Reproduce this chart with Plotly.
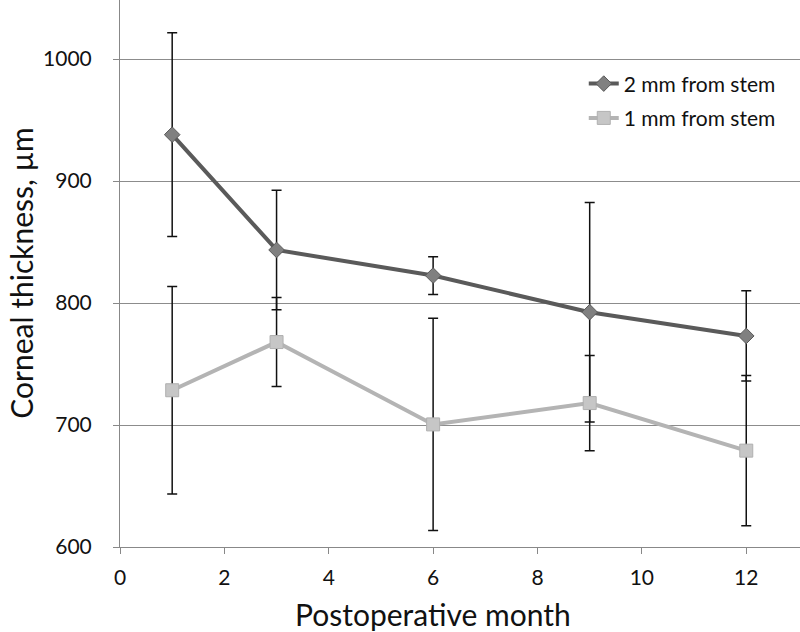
import plotly.graph_objects as go

months = [1, 3, 6, 9, 12]
mean_2mm = [938, 843.5, 822.5, 792.5, 773]
err_2mm = [83.5, 49, 15.5, 90, 37]
mean_1mm = [728.5, 768, 700.5, 718, 679]
err_1mm = [85, 36.5, 87, 39, 61.5]

x_ticks = [0, 2, 4, 6, 8, 10, 12]
y_ticks = [600, 700, 800, 900, 1000]

FONT = "Lato"

fig = go.Figure()
fig.add_trace(go.Scatter(
    x=months, y=mean_2mm, name="2 mm from stem", mode="lines+markers",
    legendgroup="a",
    line=dict(color="#5a5a5a", width=4),
    marker=dict(symbol="diamond", size=12, color="#808080",
                line=dict(color="#5a5a5a", width=1)),
    error_y=dict(type="data", array=err_2mm, visible=True,
                 color="#111111", thickness=1.5, width=5),
))
fig.add_trace(go.Scatter(
    x=months, y=mean_1mm, name="1 mm from stem", mode="lines+markers",
    legendgroup="b",
    line=dict(color="#b4b4b4", width=4),
    marker=dict(symbol="square", size=13, color="#c6c6c6",
                line=dict(color="#b0b0b0", width=1)),
    error_y=dict(type="data", array=err_1mm, visible=True,
                 color="#111111", thickness=1.5, width=5),
))

fig.update_layout(
    width=800, height=632,
    margin=dict(l=120, r=0, t=0, b=85),
    paper_bgcolor="white", plot_bgcolor="white",
    font=dict(family=FONT, color="#111111"),
    showlegend=True,
    legend=dict(x=0.682, y=0.884, xanchor="left", yanchor="top",
                bgcolor="rgba(0,0,0,0)", font=dict(size=21, family=FONT),
                itemwidth=30, traceorder="grouped", tracegroupgap=4),
    annotations=[
        dict(text="Postoperative month", xref="paper", yref="paper",
             x=0.46, y=-0.122, xanchor="center", yanchor="middle",
             showarrow=False, font=dict(size=30, family=FONT, color="#111111")),
        dict(text="Corneal thickness, µm", xref="paper", yref="paper",
             x=-0.146, y=0.501, xanchor="center", yanchor="middle", textangle=-90,
             showarrow=False, font=dict(size=30, family=FONT, color="#111111")),
    ],
)
fig.update_xaxes(
    range=[0, 13.03], tickvals=x_ticks, ticktext=[str(t) for t in x_ticks],
    showgrid=False, zeroline=False, automargin=False,
    showline=True, linecolor="#888888", linewidth=1,
    ticks="outside", ticklen=6, tickcolor="#888888",
    tickfont=dict(size=21, family=FONT), ticklabelstandoff=6,
)
fig.update_yaxes(
    range=[600, 1048.4], tickvals=y_ticks, ticktext=[str(t) for t in y_ticks],
    showgrid=True, gridcolor="#8c8c8c", gridwidth=1, zeroline=False, automargin=False,
    showline=True, linecolor="#888888", linewidth=1,
    ticks="outside", ticklen=6, tickcolor="#888888",
    tickfont=dict(size=21, family=FONT), ticklabelstandoff=17,
)

fig.write_html(
    "out.html",
    config={"displayModeBar": False},
    post_script="document.body.style.margin='0';document.body.style.padding='0';",
)
